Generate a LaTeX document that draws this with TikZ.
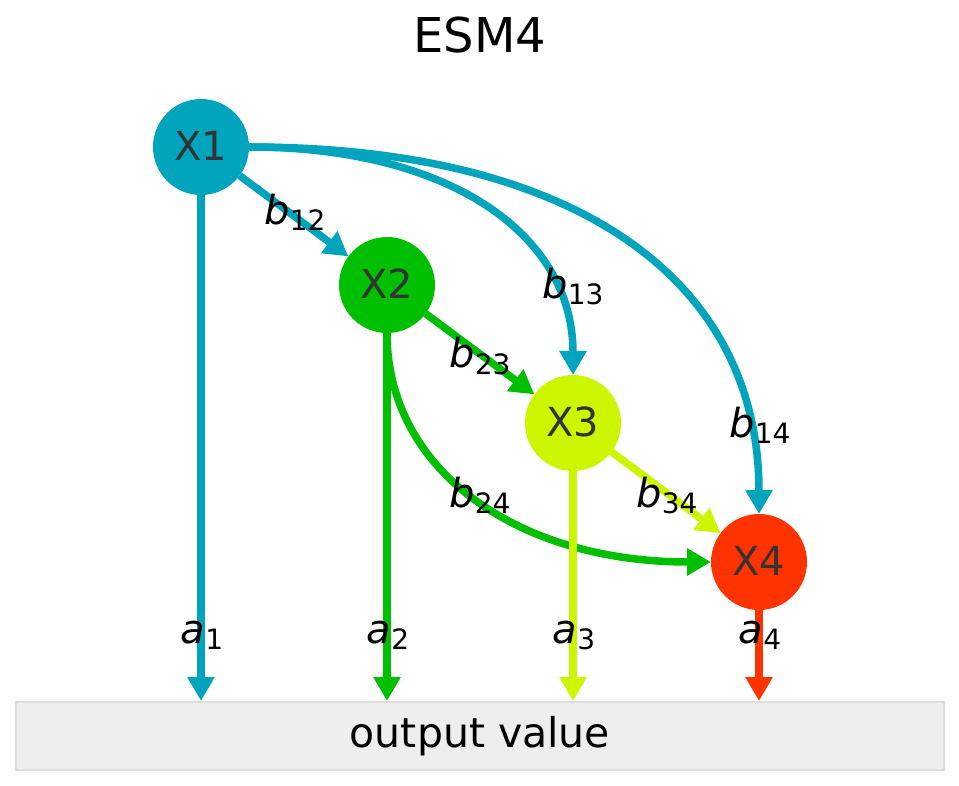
\documentclass[tikz,border=0pt]{standalone}
\usepackage{fontspec}
\setmainfont{DejaVu Sans}
\usetikzlibrary{arrows.meta}
\pgfdeclarelayer{edgelayer}
\pgfsetlayers{edgelayer,main}
\definecolor{cA}{HTML}{00A5BD}
\definecolor{cB}{HTML}{00BF00}
\definecolor{cC}{HTML}{CCF600}
\definecolor{cD}{HTML}{FF3300}
\definecolor{nodetext}{HTML}{333333}
\definecolor{boxfill}{HTML}{EEEEEE}
\definecolor{boxline}{HTML}{DDDDDD}
\newcommand\blab[2]{\textit{#1}\raisebox{-6pt}{\fontsize{28}{28}\selectfont #2}}
\begin{document}
\begin{tikzpicture}[x=1pt,y=-1pt,
  vert/.style={circle,minimum size=96pt,inner sep=0pt,outer sep=0pt,text=nodetext,
    font=\fontsize{40}{40}\selectfont},
  edge/.style={line width=7.5pt,-{Triangle[width=26pt,length=24pt]}},
  elab/.style={anchor=base,inner sep=0pt,font=\fontsize{40}{40}\selectfont},
]
\useasboundingbox (0,0) rectangle (959,786);

\node[font=\fontsize{48}{48}\selectfont,anchor=base,inner sep=0pt] (title) at (480,53) {ESM4};

\node[vert,fill=cA] (X1) at (201,147) {\raisebox{3pt}{X1}};
\node[vert,fill=cB] (X2) at (387,285) {\raisebox{3pt}{X2}};
\node[vert,fill=cC] (X3) at (573,423) {\raisebox{3pt}{X3}};
\node[vert,fill=cD] (X4) at (759,562) {\raisebox{3pt}{X4}};

\begin{pgfonlayer}{edgelayer}
\node[draw=boxline,fill=boxfill,line width=2pt,minimum width=928pt,minimum height=68pt,
  inner sep=0pt,font=\fontsize{41}{41}\selectfont] (out) at (480,736) {output value};

\draw[edge,cA] (X1) -- (X2);
\draw[edge,cA] (X1.east) .. controls +(200,0) and +(0,-141) .. (X3.north);
\draw[edge,cA] (X1.east) .. controls +(326,0) and +(0,-235) .. (X4.north);
\draw[edge,cB] (X2) -- (X3);
\draw[edge,cB] (X2.south) .. controls +(0,137) and +(-194,0) .. (X4.west);
\draw[edge,cC] (X3) -- (X4);

\draw[edge,cA] (X1) -- (X1 |- out.north);
\draw[edge,cB] (X2) -- (X2 |- out.north);
\draw[edge,cC] (X3) -- (X3 |- out.north);
\draw[edge,cD] (X4) -- (X4 |- out.north);
\end{pgfonlayer}

\node[elab] (l12) at (295,225) {\blab{b}{12}};
\node[elab] (l13) at (573,299) {\blab{b}{13}};
\node[elab] (l23) at (480,368) {\blab{b}{23}};
\node[elab] (l14) at (760,437) {\blab{b}{14}};
\node[elab] (l24) at (480,507) {\blab{b}{24}};
\node[elab] (l34) at (667,507) {\blab{b}{34}};

\node[elab] (a1) at (202,643) {\blab{a}{1}};
\node[elab] (a2) at (388,643) {\blab{a}{2}};
\node[elab] (a3) at (574,643) {\blab{a}{3}};
\node[elab] (a4) at (760,643) {\blab{a}{4}};
\end{tikzpicture}
\end{document}
